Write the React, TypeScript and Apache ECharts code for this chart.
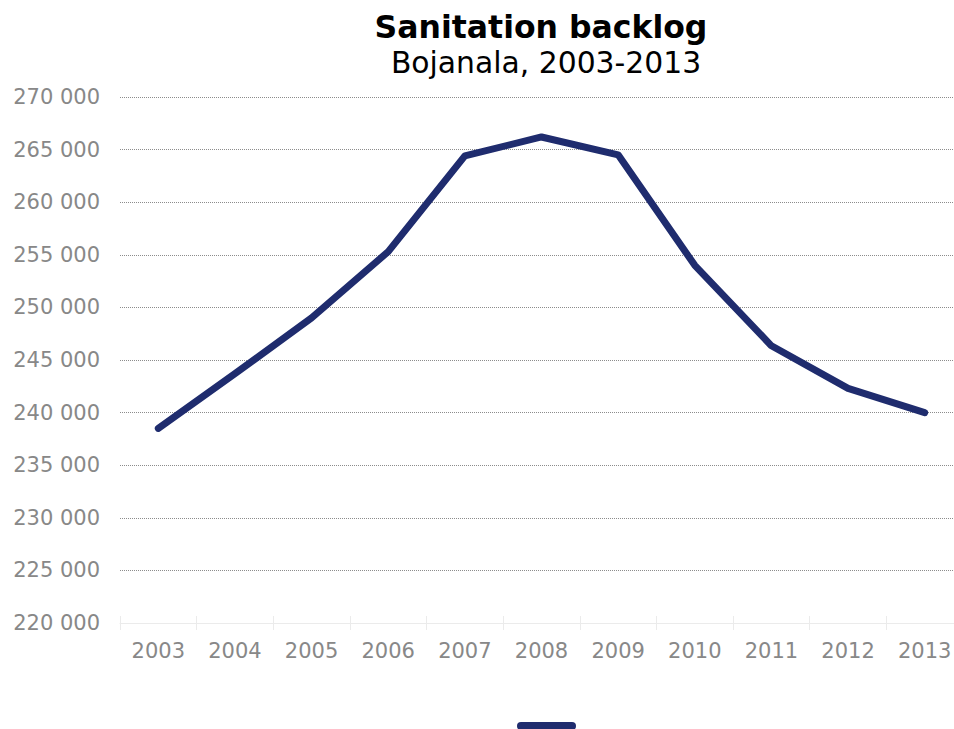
import React, { useEffect, useRef } from "react";
import * as echarts from "echarts";

const years = ["2003", "2004", "2005", "2006", "2007", "2008", "2009", "2010", "2011", "2012", "2013"];
const backlog = [238500, 243700, 249000, 255300, 264400, 266200, 264500, 254000, 246350, 242300, 240000];
const yMin = 220000;
const yMax = 270000;
const yStep = 5000;

const FONT = "'DejaVu Sans', Verdana, sans-serif";

function formatThousands(v: number): string {
  return String(Math.round(v)).replace(/\B(?=(\d{3})+(?!\d))/g, " ");
}

export default function App() {
  const ref = useRef<HTMLDivElement>(null);

  useEffect(() => {
    if (!ref.current) return;
    const chart = echarts.init(ref.current, undefined, { renderer: "svg" });
    chart.setOption({
      animation: false,
      backgroundColor: "#ffffff",
      textStyle: { fontFamily: FONT },
      title: [
        {
          text: "Sanitation backlog",
          left: 536,
          top: 6,
          textAlign: "center",
          textStyle: { fontFamily: FONT, fontSize: 31.5, fontWeight: "bold", color: "#000000" },
        },
        {
          text: "Bojanala, 2003-2013",
          left: 541,
          top: 42,
          textAlign: "center",
          textStyle: { fontFamily: FONT, fontSize: 29.8, fontWeight: "normal", color: "#000000" },
        },
      ],
      legend: {
        left: 512,
        top: 717,
        itemWidth: 59,
        itemHeight: 8,
        icon: "path://M4,0 H55 A4,4 0 0 1 55,8 H4 A4,4 0 0 1 4,0 Z",
        formatter: () => "",
        textStyle: { fontSize: 1 },
        data: ["Sanitation backlog"],
      },
      grid: { left: 120, top: 97, right: 0, bottom: 106, containLabel: false },
      xAxis: [
        {
          type: "category",
          data: years,
          boundaryGap: true,
          axisLine: { show: true, lineStyle: { color: "#ebebeb", width: 1 } },
          axisTick: { show: true, length: 7, lineStyle: { color: "#ebebeb" } },
          axisLabel: { color: "#888888", fontSize: 21, fontFamily: FONT, margin: 17, interval: 0 },
          splitLine: { show: false },
          z: 5,
        },
        {
          type: "category",
          data: years,
          boundaryGap: true,
          position: "bottom",
          axisLine: { show: false },
          axisTick: { show: true, inside: true, length: 7, lineStyle: { color: "#ebebeb" } },
          axisLabel: { show: false },
          splitLine: { show: false },
        },
      ],
      yAxis: {
        type: "value",
        min: yMin,
        max: yMax,
        interval: yStep,
        axisLine: { show: false },
        axisTick: { show: false },
        axisLabel: {
          color: "#888888",
          fontSize: 21,
          fontFamily: FONT,
          margin: 20,
          formatter: (v: number) => formatThousands(v),
        },
        splitLine: {
          show: true,
          showMinLine: false,
          lineStyle: { color: "#8c8c8c", type: [1, 1], width: 1 },
        },
      },
      series: [
        {
          name: "Sanitation backlog",
          type: "line",
          data: backlog,
          xAxisIndex: 0,
          showSymbol: false,
          symbol: "none",
          color: "#1f2c6e",
          lineStyle: { color: "#1f2c6e", width: 7, cap: "round", join: "round" },
          z: 10,
        },
      ],
    });
    return () => chart.dispose();
  }, []);

  // The plot area runs a little past the right edge, so the chart canvas is
  // wider than the visible frame and the overflow is clipped.
  return (
    <div style={{ width: 954, height: 729, position: "absolute", left: 0, top: 0, overflow: "hidden" }}>
      <div ref={ref} style={{ width: 963, height: 729 }} />
    </div>
  );
}
